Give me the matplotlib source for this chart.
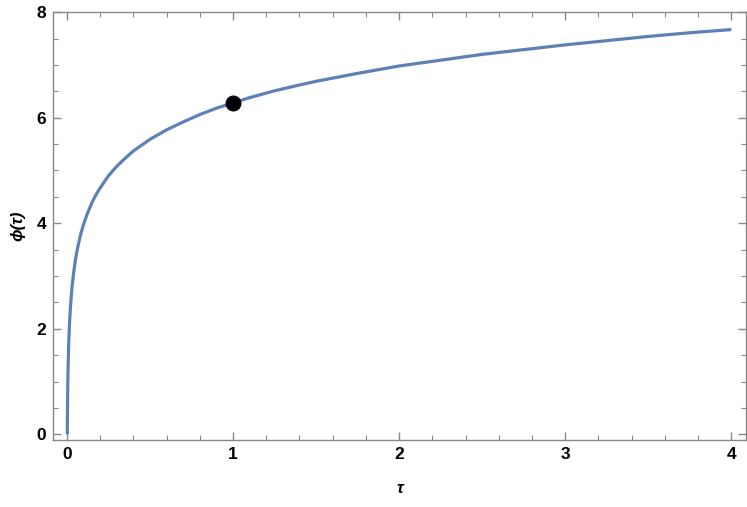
import matplotlib.pyplot as plt
from matplotlib.ticker import MultipleLocator

# values
tau = [0.0019, 0.0025, 0.003, 0.004, 0.005, 0.007, 0.01, 0.0125, 0.015, 0.02,
       0.025, 0.03, 0.04, 0.05, 0.06, 0.07, 0.085, 0.1, 0.12, 0.15, 0.175,
       0.2, 0.25, 0.3, 0.35, 0.4, 0.45, 0.5, 0.55, 0.6, 0.7, 0.8, 0.9, 1.0,
       1.1, 1.25, 1.4, 1.5, 1.75, 2.0, 2.25, 2.5, 2.75, 3.0, 3.25, 3.5,
       3.75, 4.0]
phi = [0.0, 0.28, 0.46, 0.75, 0.98, 1.32, 1.68, 1.9, 2.08, 2.37,
       2.59, 2.78, 3.06, 3.29, 3.47, 3.62, 3.82, 3.98, 4.16, 4.39, 4.54,
       4.67, 4.9, 5.08, 5.23, 5.37, 5.48, 5.59, 5.68, 5.77, 5.92, 6.06, 6.18, 6.28,
       6.38, 6.51, 6.62, 6.69, 6.84, 6.98, 7.09, 7.2, 7.29, 7.38, 7.46, 7.54,
       7.61, 7.67]
point_tau = [1.0]
point_phi = [6.28]

plt.rcParams['font.family'] = ['Liberation Sans', 'DejaVu Sans']

fig = plt.figure(figsize=(7.47, 5.07), dpi=100)
ax = fig.add_axes([0.071, 0.132, 0.928, 0.844])

ax.plot(tau, phi, color='#5E81B5', lw=2.3, solid_capstyle='butt')
ax.plot(point_tau, point_phi, 'o', color='black', ms=10.5, zorder=5)

ax.set_xlim(-0.084, 4.09)
ax.set_ylim(-0.11, 8)

ax.xaxis.set_major_locator(MultipleLocator(1))
ax.xaxis.set_minor_locator(MultipleLocator(0.2))
ax.yaxis.set_major_locator(MultipleLocator(2))
ax.yaxis.set_minor_locator(MultipleLocator(0.5))

for s in ax.spines.values():
    s.set_color('#888888')
    s.set_linewidth(1.0)
ax.tick_params(which='both', direction='in', top=True, right=True, color='#888888')
ax.tick_params(which='major', length=6, width=1.0, labelsize=12.5, pad=5)
ax.tick_params(which='minor', length=3.5, width=0.8)
for lab in ax.get_xticklabels() + ax.get_yticklabels():
    lab.set_fontweight('bold')

ax.set_xlabel('τ', fontsize=12, fontweight='bold', labelpad=14, fontstyle='italic')
ax.set_ylabel('ϕ(τ)', fontsize=12, fontweight='bold', labelpad=8, fontstyle='italic')

fig.savefig('out.png', dpi=100)
